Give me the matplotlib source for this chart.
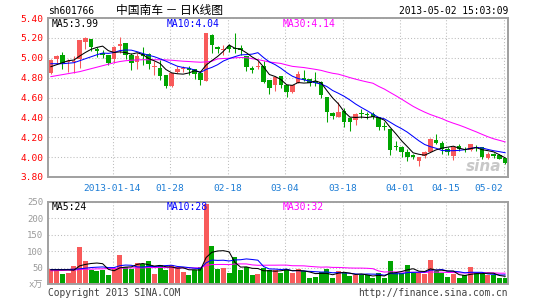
import numpy as np
import pandas as pd
import matplotlib
matplotlib.use("Agg")
import matplotlib.pyplot as plt

# ---------------- data ----------------
opens = [4.85, 4.99, 5.03, 4.955, 4.96, 4.99, 5.16, 5.19, 5.09, 5.05,
         5.03, 4.99, 5.115, 5.15, 5.03, 4.96, 5.04, 5.035, 4.91, 4.90,
         4.83, 4.72, 4.86, 4.89, 4.90, 4.89, 4.85, 4.77, 5.23, 5.11,
         5.08, 5.12, 5.103, 5.097, 5.02, 4.893, 4.907, 4.92, 4.78, 4.73,
         4.82, 4.73, 4.653, 4.747, 4.797, 4.787, 4.763, 4.76, 4.61, 4.44,
         4.405, 4.46, 4.39, 4.37, 4.44, 4.43, 4.435, 4.40, 4.31, 4.28,
         4.11, 4.103, 4.047, 4.02, 3.963, 4.007, 4.053, 4.173, 4.14, 4.08,
         4.007, 4.113, 4.075, 4.07, 4.10, 4.097, 3.99, 4.035, 4.02, 3.99]
highs = [4.99, 5.03, 5.06, 4.99, 5.02, 5.18, 5.21, 5.19, 5.11, 5.08,
         5.03, 5.12, 5.21, 5.15, 5.05, 5.05, 5.11, 5.05, 4.97, 4.98,
         4.83, 4.85, 4.915, 4.92, 4.915, 4.89, 4.87, 5.253, 5.235, 5.12,
         5.13, 5.14, 5.247, 5.13, 5.02, 4.913, 4.963, 4.963, 4.78, 4.813,
         4.82, 4.73, 4.73, 4.863, 4.88, 4.787, 4.853, 4.765, 4.61, 4.45,
         4.55, 4.49, 4.40, 4.44, 4.48, 4.45, 4.45, 4.40, 4.35, 4.28,
         4.16, 4.11, 4.08, 4.03, 3.997, 4.063, 4.197, 4.23, 4.163, 4.10,
         4.11, 4.13, 4.10, 4.133, 4.12, 4.10, 4.05, 4.045, 4.03, 3.995]
lows = [4.84, 4.95, 4.89, 4.86, 4.85, 4.90, 5.09, 5.07, 5.01, 5.00,
        4.93, 4.95, 5.05, 4.99, 4.88, 4.885, 4.93, 4.885, 4.83, 4.78,
        4.70, 4.71, 4.845, 4.86, 4.83, 4.79, 4.723, 4.763, 5.045, 5.05,
        5.03, 5.06, 5.047, 5.03, 4.863, 4.847, 4.887, 4.747, 4.64, 4.663,
        4.697, 4.607, 4.647, 4.747, 4.763, 4.72, 4.72, 4.59, 4.35, 4.38,
        4.40, 4.30, 4.26, 4.32, 4.39, 4.38, 4.38, 4.27, 4.27, 4.02,
        4.07, 4.003, 3.963, 3.98, 3.907, 3.987, 4.047, 4.13, 4.03, 4.02,
        3.973, 4.06, 4.05, 4.06, 4.06, 3.983, 3.98, 3.99, 3.98, 3.93]
closes = [4.98, 5.02, 4.95, 4.97, 4.965, 5.18, 5.20, 5.11, 5.065, 5.03,
          4.95, 5.11, 5.14, 5.03, 4.95, 5.02, 5.02, 4.935, 4.92, 4.815,
          4.72, 4.85, 4.89, 4.90, 4.875, 4.833, 4.773, 5.25, 5.125, 5.085,
          5.09, 5.09, 5.09, 5.073, 4.907, 4.88, 4.92, 4.753, 4.697, 4.807,
          4.73, 4.653, 4.723, 4.84, 4.78, 4.747, 4.747, 4.625, 4.45, 4.41,
          4.45, 4.35, 4.355, 4.43, 4.43, 4.425, 4.40, 4.30, 4.305, 4.07,
          4.10, 4.047, 4.003, 3.997, 3.997, 4.053, 4.18, 4.14, 4.08, 4.047,
          4.103, 4.08, 4.07, 4.13, 4.095, 4.00, 4.03, 4.01, 3.985, 3.94]
volumes = [48, 48, 31, 33, 55, 113, 70, 45, 40, 45,
           28, 48, 89, 52, 48, 65, 62, 70, 32, 58,
           45, 58, 52, 38, 28, 45, 53, 242, 117, 48,
           50, 35, 83, 45, 52, 28, 32, 49, 45, 45,
           35, 47, 35, 48, 40, 18, 22, 38, 48, 20,
           42, 35, 25, 28, 28, 28, 18, 35, 18, 72,
           35, 35, 60, 35, 35, 30, 75, 40, 35, 22,
           30, 20, 28, 52, 33, 30, 27, 27, 18, 20]

ma5_head = [4.91, 4.93, 4.95, 4.97]
ma10_head = [4.94, 4.94, 4.94, 4.945, 4.95, 4.97, 4.99, 5.01, 5.03]
ma30_head = [4.81, 4.82, 4.83, 4.84, 4.85, 4.86, 4.875, 4.89, 4.905, 4.92,
             4.935, 4.95, 4.962, 4.97, 4.975, 4.978, 4.98, 4.98, 4.98, 4.98,
             4.978, 4.975, 4.97, 4.965, 4.962, 4.958, 4.955, 4.958, 4.965]
vma5_head = [44, 44, 44, 44]
vma10_head = [45, 45, 45, 45, 46, 47, 49, 51, 52]
vma30_head = [41, 42, 42, 43, 43, 45, 46, 46, 47, 47,
              48, 48, 49, 49, 50, 50, 50, 51, 51, 51,
              51, 51, 50, 50, 50, 50, 50, 57, 60]

price_ma_labels = ["MA5:3.99", "MA10:4.04", "MA30:4.14"]
vol_ma_labels = ["MA5:24", "MA10:28", "MA30:32"]

holidays = ["2013-01-01", "2013-01-02", "2013-01-03",
            "2013-02-11", "2013-02-12", "2013-02-13", "2013-02-14", "2013-02-15",
            "2013-04-04", "2013-04-05", "2013-04-29", "2013-04-30", "2013-05-01"]
tick_dates = ["2013-01-14", "2013-01-28", "2013-02-18", "2013-03-04",
              "2013-03-18", "2013-04-01", "2013-04-15", "2013-05-02"]
tick_labels = ["2013-01-14", "01-28", "02-18", "03-04", "03-18", "04-01", "04-15", "05-02"]
price_ticks = [3.80, 4.00, 4.20, 4.40, 4.60, 4.80, 5.00, 5.20, 5.40]
vol_ticks = [0, 50, 100, 150, 200, 250]
vol_tick_labels = ["x万", "50", "100", "150", "200", "250"]

# ---------------- derived ----------------
dates = pd.bdate_range("2012-12-25", "2013-05-02", freq="C", holidays=holidays)
o = np.array(opens); h = np.array(highs); l = np.array(lows); c = np.array(closes)
v = np.array(volumes, dtype=float)
x = np.arange(len(c))


def moving(vals, n, head):
    s = pd.Series(vals, dtype=float).rolling(n).mean().to_numpy()
    s[:n - 1] = head
    return s


ma5 = moving(c, 5, ma5_head)
ma10 = moving(c, 10, ma10_head)
ma30 = moving(c, 30, ma30_head)
vma5 = moving(v, 5, vma5_head)
vma10 = moving(v, 10, vma10_head)
vma30 = moving(v, 30, vma30_head)

RED = "#F85A5A"
GREEN = "#00A400"
up = c >= o
cols = np.where(up, RED, GREEN)
tick_pos = dates.get_indexer(pd.to_datetime(tick_dates)) - 0.28

MONO = ["DejaVu Sans Mono", "Noto Sans CJK SC"]
plt.rcParams["font.family"] = MONO

W, H = 545, 300
fig = plt.figure(figsize=(W / 100, H / 100), dpi=100)
fig.patch.set_facecolor("white")


def fx(px):
    return px / W


def fy(py):
    return 1 - py / H


axp = fig.add_axes([fx(48), fy(177), fx(460), (177 - 18) / H])
axv = fig.add_axes([fx(48), fy(284.4), fx(460), (284.4 - 201.7) / H])

for ax in (axp, axv):
    ax.set_xlim(-0.5, len(c) - 0.5)
    for s in ax.spines.values():
        s.set_color("#A0A0A0")
        s.set_linewidth(1.4)
    ax.set_xticks(tick_pos)
    ax.grid(True, color="#BDBDBD", linestyle=(0, (1, 2)), linewidth=0.75)
    ax.set_axisbelow(True)
    ax.tick_params(length=0)

# price panel
axp.set_ylim(3.80, 5.40)
axp.set_yticks(price_ticks)
axp.set_yticklabels([f"{t:.2f}" for t in price_ticks])
axp.tick_params(axis="y", labelcolor="#FF0000", labelsize=6.8, pad=3.5)
axp.set_xticklabels(tick_labels)
axp.tick_params(axis="x", labelcolor="#1C7CD5", labelsize=6.8, pad=5)
axp.get_xticklabels()[-1].set_horizontalalignment("right")

axp.vlines(x, l, h, colors=cols, linewidth=0.75, zorder=2)
axp.bar(x, np.maximum(np.abs(c - o), 0.008), bottom=np.minimum(o, c), width=0.78,
        color=cols, linewidth=0, zorder=3)
axp.plot(x, ma30, color="#FF00FF", linewidth=0.75, zorder=4)
axp.plot(x, ma10, color="#0000FF", linewidth=0.75, zorder=4)
axp.plot(x, ma5, color="#000000", linewidth=0.75, zorder=5)
axp.text(0.985, 0.02, "sina", transform=axp.transAxes, ha="right", va="bottom",
         fontsize=11, color="#C8C8C8", style="italic", fontweight="bold",
         family="DejaVu Sans", zorder=1)

# volume panel
axv.set_ylim(0, 250)
axv.set_yticks(vol_ticks)
axv.set_yticklabels(vol_tick_labels)
axv.tick_params(axis="y", labelcolor="#999999", labelsize=6.5, pad=3.5)
axv.set_xticklabels([])
axv.bar(x, v, width=0.86, color=cols, linewidth=0, zorder=2)
axv.plot(x, vma30, color="#FF00FF", linewidth=0.75, zorder=3)
axv.plot(x, vma10, color="#0000FF", linewidth=0.75, zorder=3)
axv.plot(x, vma5, color="#000000", linewidth=0.75, zorder=4)

# texts
ma_cols = ["#000000", "#0000FF", "#FF00FF"]
ma_x = [52, 167, 283]
for lab, col, px in zip(price_ma_labels, ma_cols, ma_x):
    fig.text(fx(px), fy(24), lab, color=col, fontsize=7, va="center", ha="left")
for lab, col, px in zip(vol_ma_labels, ma_cols, ma_x):
    fig.text(fx(px), fy(207.5), lab, color=col, fontsize=7, va="center", ha="left")

fig.text(fx(48), fy(11), "sh601766", fontsize=6.9, va="center", ha="left", color="#000000")
fig.text(fx(116), fy(10.5), "中国南车 － 日K线图", fontsize=8.5, va="center", ha="left",
         color="#000000", family=["Noto Sans CJK SC", "DejaVu Sans"])
fig.text(fx(508), fy(11), "2013-05-02 15:03:09", fontsize=6.9, va="center", ha="right",
         color="#000000")
fig.text(fx(48), fy(293), "Copyright 2013 SINA.COM", fontsize=6.9, va="center", ha="left",
         color="#404040")
fig.text(fx(508), fy(293), "http://finance.sina.com.cn", fontsize=6.9, va="center",
         ha="right", color="#404040")

fig.savefig("out.png", dpi=100, facecolor="white")
